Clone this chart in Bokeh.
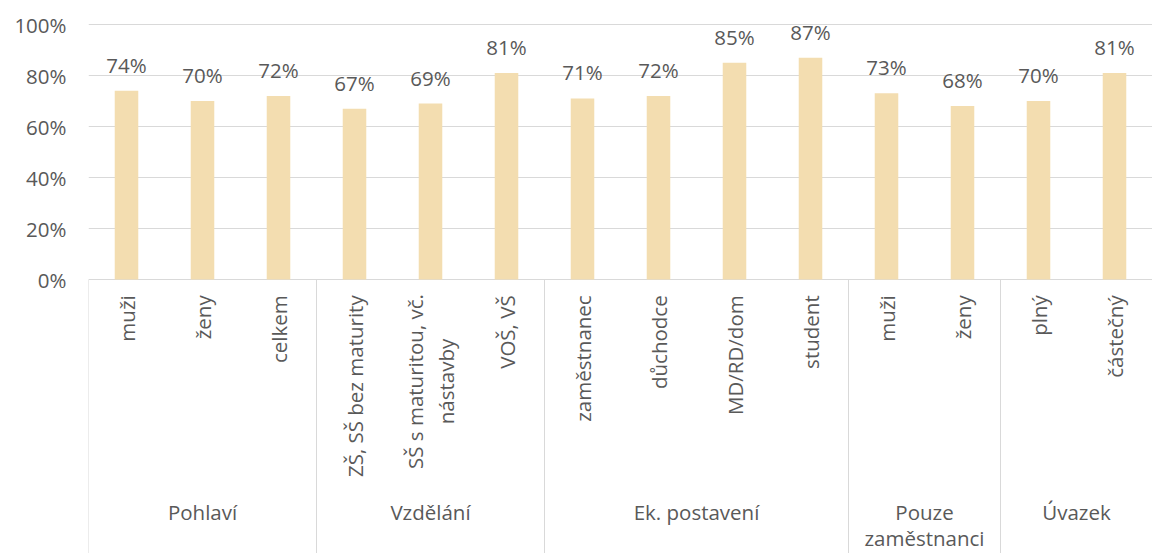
from bokeh.plotting import figure
from bokeh.models import ColumnDataSource, Range1d, FixedTicker, NumeralTickFormatter
from bokeh.embed import file_html
from bokeh.resources import INLINE
from bokeh.core.properties import value
import math

categories = ["muži", "ženy", "celkem",
              "ZŠ, SŠ bez maturity", "SŠ s maturitou, vč.\nnástavby", "VOŠ, VŠ",
              "zaměstnanec", "důchodce", "MD/RD/dom", "student",
              "muži", "ženy",
              "plný", "částečný"]
values = [0.74, 0.70, 0.72, 0.67, 0.69, 0.81, 0.71, 0.72, 0.85, 0.87, 0.73, 0.68, 0.70, 0.81]
groups = ["Pohlaví", "Vzdělání", "Ek. postavení", "Pouze\nzaměstnanci", "Úvazek"]
group_sizes = [3, 3, 4, 2, 2]
y_ticks = [0, 0.2, 0.4, 0.6, 0.8, 1.0]

FONT = "Open Sans"
TXT = "#595959"
GRID = "#d9d9d9"
BAR = "#F3DDB0"
FS = "20.5px"

Y_BOTTOM = -1.0745
Y_TOP = 1.0 + 8 / 255

n = len(categories)
p = figure(width=1152, height=553, output_backend="svg", toolbar_location=None,
           x_range=Range1d(0, n), y_range=Range1d(Y_BOTTOM, Y_TOP),
           x_axis_type=None, min_border_left=88, min_border_right=0,
           min_border_top=16, min_border_bottom=0)
p.outline_line_color = None
p.background_fill_color = "white"
p.border_fill_color = "white"
p.xgrid.visible = False
p.ygrid.ticker = FixedTicker(ticks=y_ticks)
p.ygrid.grid_line_color = GRID
p.ygrid.grid_line_width = 1

ax = p.yaxis[0]
ax.ticker = FixedTicker(ticks=y_ticks)
ax.formatter = NumeralTickFormatter(format="0%")
ax.axis_line_color = None
ax.major_tick_line_color = None
ax.minor_tick_line_color = None
ax.major_tick_out = 0
ax.major_label_standoff = 22
ax.major_label_text_font = FONT
ax.major_label_text_font_size = FS
ax.major_label_text_color = TXT

xs = [i + 0.5 for i in range(n)]
src = ColumnDataSource(dict(
    x=xs, top=values,
    lab=[f"{round(v * 100)}%" for v in values],
    ly=[v + 0.102 for v in values],
))
p.vbar(x="x", top="top", width=0.31, bottom=0, source=src, fill_color=BAR, line_color=None)
p.text(x="x", y="ly", text="lab", source=src, text_align="center", text_baseline="middle",
       text_font=value(FONT), text_font_size=FS, text_color=TXT)

# separators
bounds = [0]
for s in group_sizes:
    bounds.append(bounds[-1] + s)
p.segment(x0=bounds, y0=[0] * len(bounds), x1=bounds, y1=[Y_BOTTOM] * len(bounds),
          line_color=GRID, line_width=1)

# category labels (rotated)
single = [(x, c) for x, c in zip(xs, categories) if "\n" not in c]
multi = [(x, c) for x, c in zip(xs, categories) if "\n" in c]
p.text(x=[a for a, _ in single], y=[-0.062] * len(single), text=[b for _, b in single],
       angle=math.pi / 2, text_align="right", text_baseline="middle",
       text_font=value(FONT), text_font_size=FS, text_color=TXT)
if multi:
    p.text(x=[a for a, _ in multi], y=[-0.40] * len(multi), text=[b for _, b in multi],
           angle=math.pi / 2, text_align="center", text_baseline="middle",
           text_font=value(FONT), text_font_size=FS, text_color=TXT, text_line_height=1.08)

# group labels
gx, gy, gt = [], [], []
for i, g in enumerate(groups):
    cx = (bounds[i] + bounds[i + 1]) / 2
    for k, line in enumerate(g.split("\n")):
        gx.append(cx)
        gy.append(-0.912 - k * 26 / 255)
        gt.append(line)
p.text(x=gx, y=gy, text=gt, text_align="center", text_baseline="middle",
       text_font=value(FONT), text_font_size=FS, text_color=TXT)

open("out.html", "w").write(file_html(p, INLINE))
